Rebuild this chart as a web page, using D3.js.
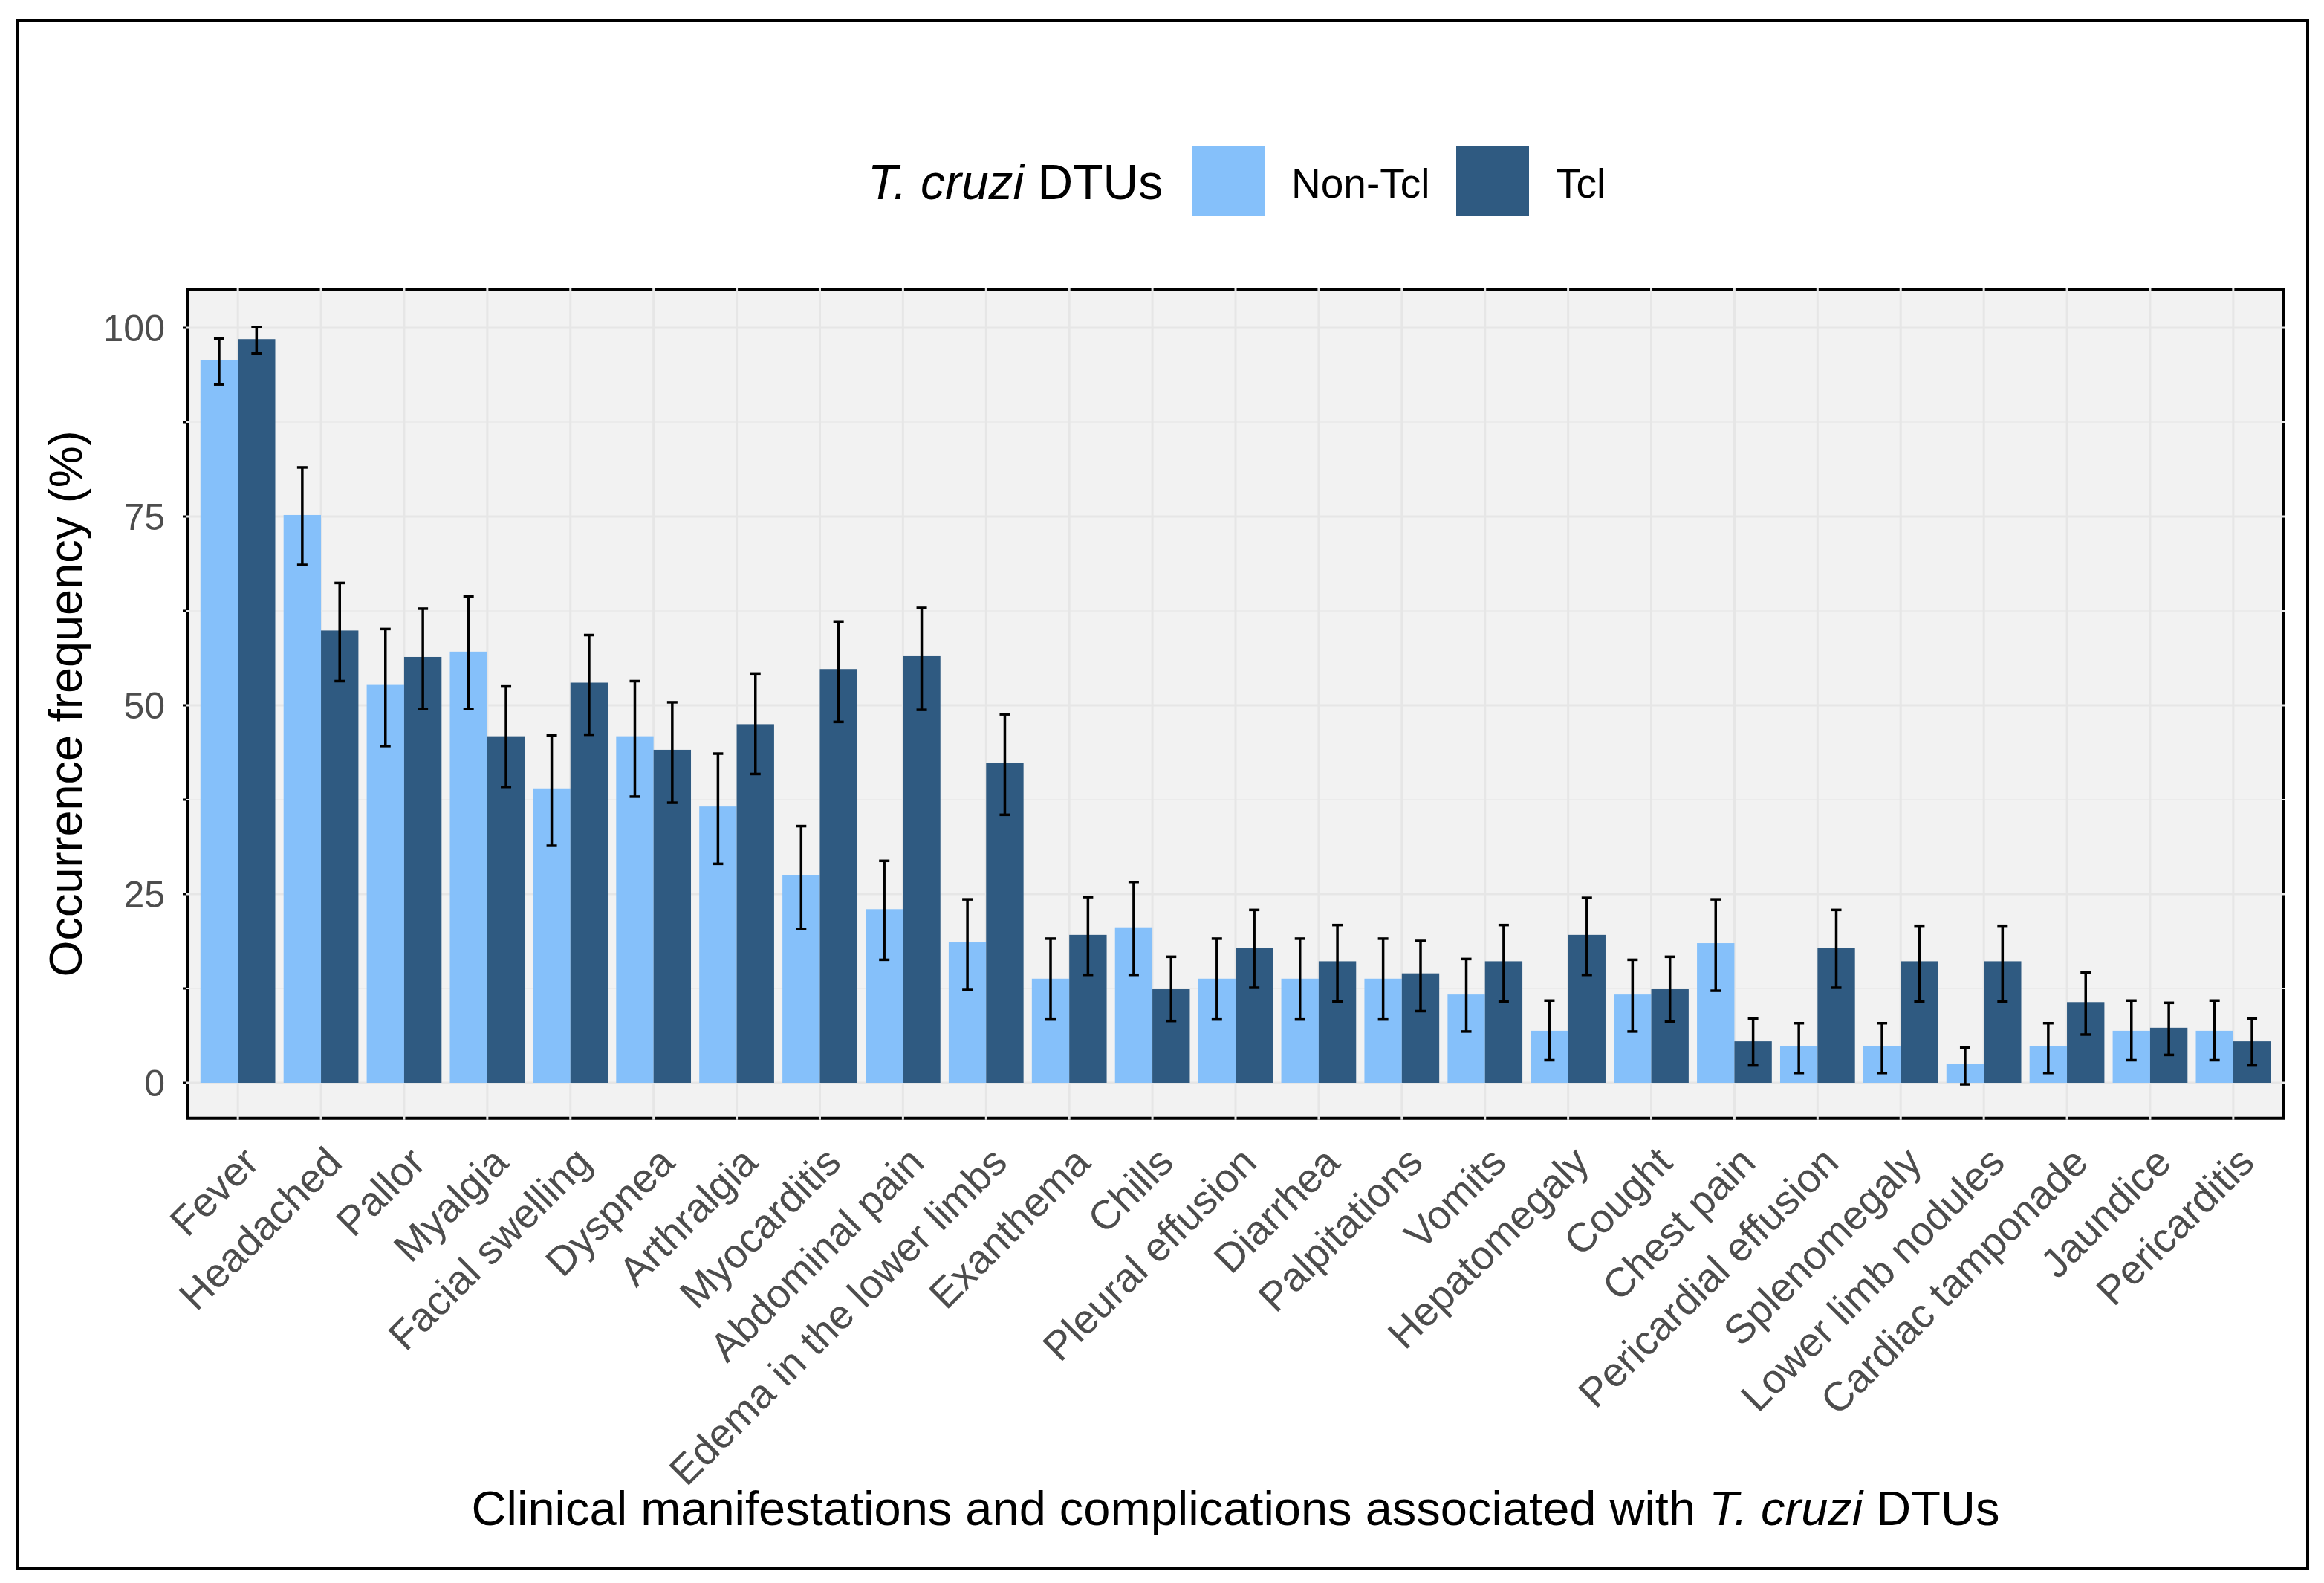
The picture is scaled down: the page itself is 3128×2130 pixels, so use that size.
<!DOCTYPE html>
<html>
<head>
<meta charset="utf-8">
<script src="https://cdn.jsdelivr.net/npm/d3@7"></script>
<style>
  body { margin: 0; background: #fff; }
  text { font-family: "Liberation Sans", Arial, sans-serif; }
</style>
</head>
<body>
<svg id="chart" width="3128" height="2130"></svg>
<script>
// categories and values (%)
var categories = ["Fever", "Headached", "Pallor", "Myalgia", "Facial swelling", "Dyspnea",
  "Arthralgia", "Myocarditis", "Abdominal pain", "Edema in the lower limbs", "Exanthema",
  "Chills", "Pleural effusion", "Diarrhea", "Palpitations", "Vomits", "Hepatomegaly",
  "Cought", "Chest pain", "Pericardial effusion", "Splenomegaly", "Lower limb nodules",
  "Cardiac tamponade", "Jaundice", "Pericarditis"];

var groups = ["Non-Tcl", "Tcl"];
var groupColors = ["#85c0fa", "#2f5a81"];

var nonTcl     = [95.7, 75.2, 52.7, 57.1, 39.0, 45.9, 36.6, 27.5, 23.0, 18.6, 13.8, 20.6, 13.8, 13.8, 13.8, 11.7, 6.9, 11.7, 18.5, 4.9, 4.9, 2.5, 4.9, 6.9, 6.9];
var nonTclHigh = [98.6, 81.5, 60.1, 64.4, 46.0, 53.2, 43.6, 34.0, 29.4, 24.3, 19.1, 26.6, 19.1, 19.1, 19.1, 16.4, 10.9, 16.3, 24.3, 7.9, 7.9, 4.7, 7.9, 10.9, 10.9];
var nonTclLow  = [92.5, 68.6, 44.6, 49.5, 31.4, 37.9, 29.0, 20.4, 16.3, 12.3, 8.4, 14.3, 8.4, 8.4, 8.4, 6.8, 3.0, 6.8, 12.2, 1.3, 1.3, -0.2, 1.3, 3.0, 3.0];

var tcl     = [98.5, 59.9, 56.4, 45.9, 53.0, 44.1, 47.5, 54.8, 56.5, 42.4, 19.6, 12.4, 17.9, 16.1, 14.5, 16.1, 19.6, 12.4, 5.5, 17.9, 16.1, 16.1, 10.7, 7.3, 5.5];
var tclHigh = [100.1, 66.2, 62.8, 52.5, 59.3, 50.4, 54.2, 61.1, 62.9, 48.8, 24.6, 16.7, 22.9, 20.9, 18.8, 20.9, 24.5, 16.7, 8.5, 22.9, 20.8, 20.8, 14.6, 10.6, 8.5];
var tclLow  = [96.6, 53.2, 49.5, 39.2, 46.1, 37.1, 40.9, 47.8, 49.4, 35.5, 14.3, 8.2, 12.6, 10.8, 9.5, 10.8, 14.3, 8.1, 2.3, 12.6, 10.8, 10.8, 6.4, 3.7, 2.3];

var yTicks = [0, 25, 50, 75, 100];
var yMinor = [12.5, 37.5, 62.5, 87.5];

var svg = d3.select("#chart");

var panel = { left: 253, right: 3073 };

var x = d3.scaleBand().domain(categories).range([panel.left, panel.right])
  .paddingInner(0.1).paddingOuter(0.15);
var xSub = d3.scaleBand().domain(groups).range([0, x.bandwidth()]);
var y = d3.scaleLinear().domain([0, 100]).range([1457, 441]);
panel.top = y(105.1);
panel.bottom = y(-4.7);

// outer frame
svg.append("rect").attr("x", 24).attr("y", 28).attr("width", 3082).attr("height", 2082)
  .attr("fill", "none").attr("stroke", "#000").attr("stroke-width", 4);

// panel
svg.append("rect").attr("x", panel.left).attr("y", panel.top)
  .attr("width", panel.right - panel.left).attr("height", panel.bottom - panel.top)
  .attr("fill", "#f2f2f2").attr("stroke", "#000").attr("stroke-width", 4);

// y ticks
svg.selectAll(".ytick").data(yTicks.concat(yMinor)).enter().append("line")
  .attr("x1", panel.left - 7).attr("x2", panel.left)
  .attr("y1", d => y(d)).attr("y2", d => y(d))
  .attr("stroke", "#000").attr("stroke-width", 3);

// grid lines (they run across the border, as in the reference)
svg.selectAll(".minor").data(yMinor).enter().append("line")
  .attr("x1", panel.left - 2).attr("x2", panel.right + 2)
  .attr("y1", d => y(d)).attr("y2", d => y(d))
  .attr("stroke", "#ebebeb").attr("stroke-width", 2);
svg.selectAll(".major").data(yTicks).enter().append("line")
  .attr("x1", panel.left - 2).attr("x2", panel.right + 2)
  .attr("y1", d => y(d)).attr("y2", d => y(d))
  .attr("stroke", "#e6e6e6").attr("stroke-width", 3);
svg.selectAll(".vgrid").data(categories).enter().append("line")
  .attr("x1", d => x(d) + x.bandwidth() / 2).attr("x2", d => x(d) + x.bandwidth() / 2)
  .attr("y1", panel.top - 2).attr("y2", panel.bottom + 2)
  .attr("stroke", "#e6e6e6").attr("stroke-width", 3);

// bars
var series = [nonTcl, tcl];
var highs = [nonTclHigh, tclHigh];
var lows = [nonTclLow, tclLow];

groups.forEach(function (g, gi) {
  svg.append("g").selectAll("rect").data(categories).enter().append("rect")
    .attr("x", d => x(d) + xSub(g))
    .attr("width", xSub.bandwidth())
    .attr("y", (d, i) => y(series[gi][i]))
    .attr("height", (d, i) => y(0) - y(series[gi][i]))
    .attr("fill", groupColors[gi]);
});

// error bars
var capW = 7;
groups.forEach(function (g, gi) {
  var eb = svg.append("g").attr("stroke", "#000").attr("stroke-width", 3.5);
  categories.forEach(function (c, i) {
    var cx = x(c) + xSub(g) + xSub.bandwidth() / 2;
    var yh = y(highs[gi][i]), yl = y(lows[gi][i]);
    eb.append("line").attr("x1", cx).attr("x2", cx).attr("y1", yh).attr("y2", yl);
    eb.append("line").attr("x1", cx - capW).attr("x2", cx + capW).attr("y1", yh).attr("y2", yh);
    eb.append("line").attr("x1", cx - capW).attr("x2", cx + capW).attr("y1", yl).attr("y2", yl);
  });
});

// y tick labels
svg.selectAll(".ylab").data(yTicks).enter().append("text")
  .attr("x", 222).attr("y", d => y(d)).attr("dy", "0.36em")
  .attr("text-anchor", "end").attr("font-size", 50).attr("fill", "#4d4d4d")
  .text(d => d);

// x tick labels
svg.selectAll(".xlab").data(categories).enter().append("text")
  .attr("transform", d => "translate(" + (x(d) + x.bandwidth() / 2 + 2) + "," + 1538 + ") rotate(-45)")
  .attr("dy", "0.75em")
  .attr("text-anchor", "end").attr("font-size", 55).attr("fill", "#4d4d4d")
  .text(d => d);

// axis titles
svg.append("text")
  .attr("transform", "translate(110," + ((panel.top + panel.bottom) / 2) + ") rotate(-90)")
  .attr("text-anchor", "middle").attr("font-size", 63).attr("fill", "#000")
  .text("Occurrence frequency (%)");

var xt = svg.append("text")
  .attr("x", (panel.left + panel.right) / 2).attr("y", 2052)
  .attr("text-anchor", "middle").attr("font-size", 65).attr("fill", "#000");
xt.append("tspan").text("Clinical manifestations and complications associated with ");
xt.append("tspan").attr("font-style", "italic").text("T. cruzi");
xt.append("tspan").text(" DTUs");

// legend
var legend = svg.append("g");
var lt = legend.append("text").attr("x", 1168).attr("y", 268)
  .attr("font-size", 66).attr("fill", "#000");
lt.append("tspan").attr("font-style", "italic").text("T. cruzi");
lt.append("tspan").text(" DTUs");

var keyX = [1604, 1960];
groups.forEach(function (g, gi) {
  legend.append("rect").attr("x", keyX[gi]).attr("y", 196)
    .attr("width", 98).attr("height", 94).attr("fill", groupColors[gi]);
  legend.append("text").attr("x", keyX[gi] + 134).attr("y", 266)
    .attr("font-size", 55).attr("fill", "#000").text(g);
});
</script>
</body>
</html>
